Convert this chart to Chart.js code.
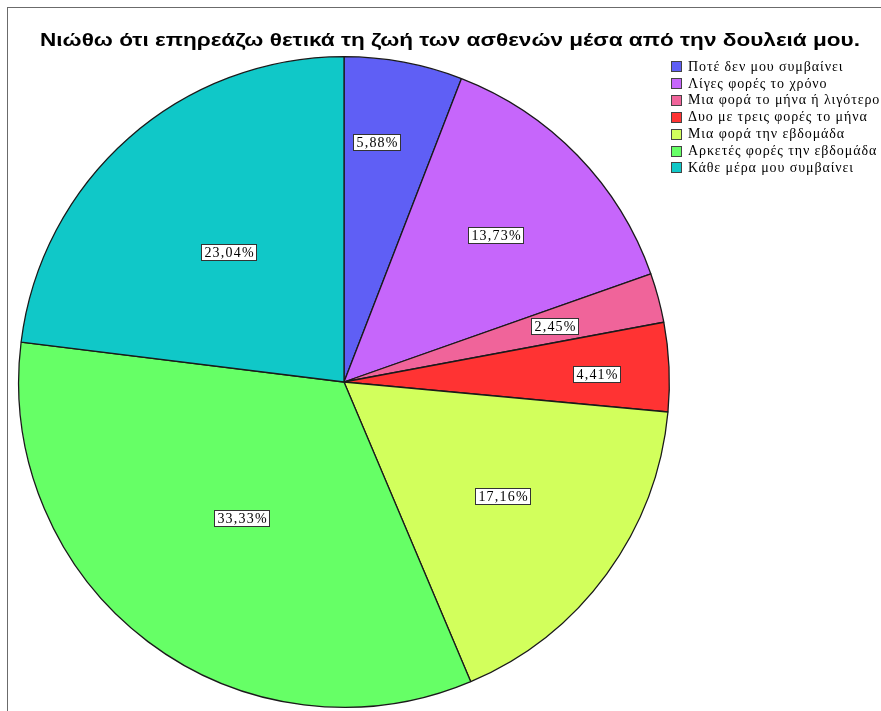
<!DOCTYPE html>
<html>
<head>
<meta charset="utf-8">
<script src="https://cdn.jsdelivr.net/npm/chart.js@4/dist/chart.umd.min.js"></script>
<style>
  html, body { margin: 0; padding: 0; background: #ffffff; }
  #wrap { width: 881px; height: 711px; position: relative; }
</style>
</head>
<body>
<div id="wrap"><canvas id="pie" width="881" height="711"></canvas></div>
<script>
// Survey answers and their share of respondents (%)
const chartTitle = 'Νιώθω ότι επηρεάζω θετικά τη ζωή των ασθενών μέσα από την δουλειά μου.';
const categories = [
  'Ποτέ δεν μου συμβαίνει',
  'Λίγες φορές το χρόνο',
  'Μια φορά το μήνα ή λιγότερο',
  'Δυο με τρεις φορές το μήνα',
  'Μια φορά την εβδομάδα',
  'Αρκετές φορές την εβδομάδα',
  'Κάθε μέρα μου συμβαίνει'
];
const percentages = [5.88, 13.73, 2.45, 4.41, 17.16, 33.33, 23.04];

const sliceColors = ['#5f5ff5', '#c666fb', '#f0649a', '#ff3333', '#d2ff5c', '#66ff66', '#10c8c8'];
// value-label placement: share of the radius, and a small turn (degrees) off the slice middle
const labelDepth = [0.745, 0.65, 0.67, 0.775, 0.6, 0.523, 0.535];
const labelTurn = [-2.8, 0, 0, 0.9, -0.6, 0, 0];

const fmt = v => v.toFixed(2).replace('.', ',') + '%';

const framePlugin = {
  id: 'frame',
  beforeDraw(chart) {
    const ctx = chart.ctx;
    ctx.save();
    ctx.fillStyle = '#ffffff';
    ctx.fillRect(0, 0, chart.width, chart.height);
    ctx.strokeStyle = '#6b6b6b';
    ctx.lineWidth = 1;
    ctx.strokeRect(7.5, 7.5, 1000, 1000);
    // title, stretched to the frame's title width
    ctx.fillStyle = '#000000';
    ctx.font = 'bold 19px "Liberation Sans", Arial, sans-serif';
    ctx.textAlign = 'center';
    ctx.textBaseline = 'alphabetic';
    const tw = ctx.measureText(chartTitle).width;
    ctx.translate(450, 46);
    ctx.scale(820 / tw, 1);
    ctx.fillText(chartTitle, 0, 0);
    ctx.restore();
  }
};

const valueLabelPlugin = {
  id: 'valueLabels',
  afterDatasetsDraw(chart) {
    const ctx = chart.ctx;
    const meta = chart.getDatasetMeta(0);
    ctx.save();
    ctx.font = '14px "Liberation Serif", "DejaVu Serif", serif';
    ctx.letterSpacing = '1.2px';
    ctx.textAlign = 'center';
    ctx.textBaseline = 'middle';
    meta.data.forEach((arc, i) => {
      const p = arc.getProps(['x', 'y', 'startAngle', 'endAngle', 'outerRadius'], true);
      const mid = (p.startAngle + p.endAngle) / 2 + labelTurn[i] * Math.PI / 180;
      const r = p.outerRadius * labelDepth[i];
      const x = p.x + Math.cos(mid) * r;
      const y = p.y + Math.sin(mid) * r;
      const txt = fmt(percentages[i]);
      const w = Math.round(ctx.measureText(txt).width + 5);
      const h = 16;
      const bx = Math.round(x - w / 2) + 0.5, by = Math.round(y - h / 2) + 0.5;
      ctx.fillStyle = '#ffffff';
      ctx.fillRect(bx, by, w, h);
      ctx.strokeStyle = '#333333';
      ctx.lineWidth = 1;
      ctx.strokeRect(bx, by, w, h);
      ctx.fillStyle = '#000000';
      ctx.fillText(txt, bx + w / 2 + 0.6, by + h / 2 + 1);
    });
    ctx.restore();
  }
};

const legendPlugin = {
  id: 'sideLegend',
  afterDraw(chart) {
    const ctx = chart.ctx;
    ctx.save();
    ctx.font = '14px "Liberation Serif", "DejaVu Serif", serif';
    ctx.letterSpacing = '0.9px';
    ctx.textBaseline = 'middle';
    ctx.textAlign = 'left';
    chart.data.labels.forEach((lab, i) => {
      const y = 66 + i * 16.9;
      const bx = 671.5, by = Math.round(y - 5) + 0.5;
      ctx.fillStyle = sliceColors[i];
      ctx.fillRect(bx, by, 10, 10);
      ctx.strokeStyle = '#444444';
      ctx.lineWidth = 1;
      ctx.strokeRect(bx, by, 10, 10);
      ctx.fillStyle = '#000000';
      ctx.fillText(lab, 688, y + 1);
    });
    ctx.restore();
  }
};

new Chart(document.getElementById('pie'), {
  type: 'pie',
  data: {
    labels: categories,
    datasets: [{
      data: percentages,
      backgroundColor: sliceColors,
      borderColor: '#1a1a1a',
      borderWidth: 1.3,
      borderAlign: 'center'
    }]
  },
  options: {
    responsive: false,
    animation: false,
    layout: { padding: { left: 18, right: 211, top: 56, bottom: 3 } },
    plugins: {
      legend: { display: false },
      title: { display: false },
      tooltip: { enabled: false }
    }
  },
  plugins: [framePlugin, valueLabelPlugin, legendPlugin]
});
</script>
</body>
</html>
